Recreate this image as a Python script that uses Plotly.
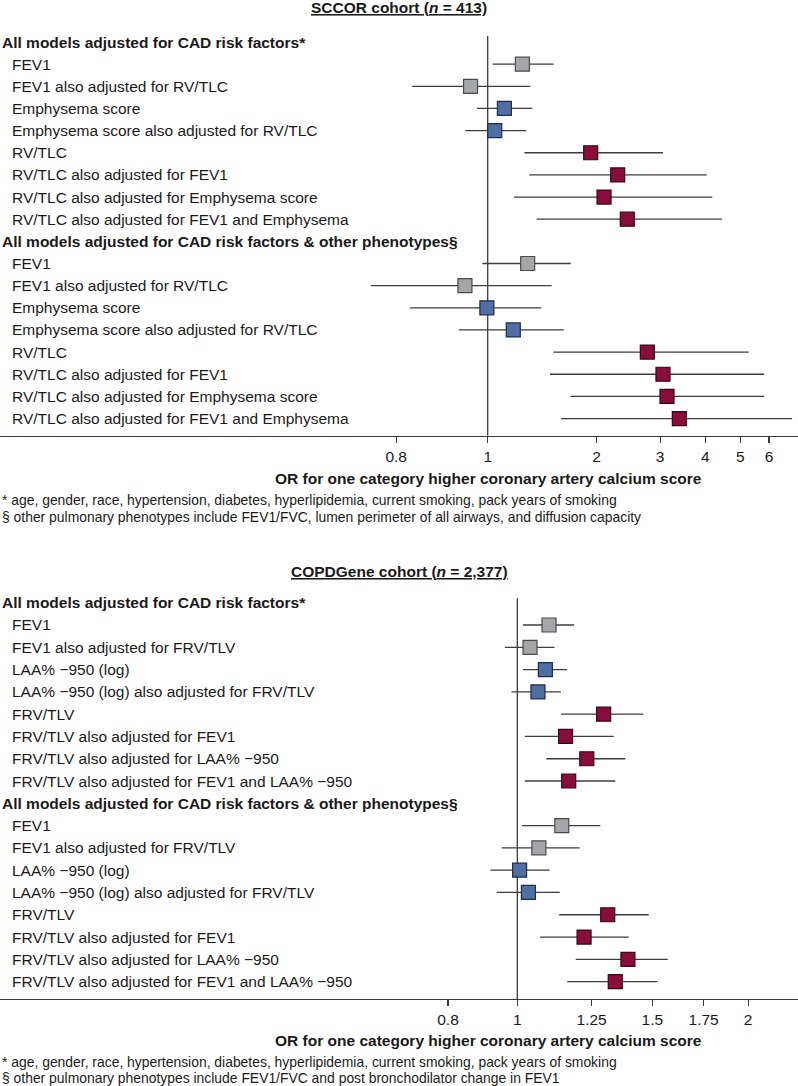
import numpy as np
import plotly.graph_objects as go

# ---------------- DATA ----------------
sccor_rows = [
    "FEV1",
    "FEV1 also adjusted for RV/TLC",
    "Emphysema score",
    "Emphysema score also adjusted for RV/TLC",
    "RV/TLC",
    "RV/TLC also adjusted for FEV1",
    "RV/TLC also adjusted for Emphysema score",
    "RV/TLC also adjusted for FEV1 and Emphysema",
]
copd_rows = [
    "FEV1",
    "FEV1 also adjusted for FRV/TLV",
    "LAA% \u2212950 (log)",
    "LAA% \u2212950 (log) also adjusted for FRV/TLV",
    "FRV/TLV",
    "FRV/TLV also adjusted for FEV1",
    "FRV/TLV also adjusted for LAA% \u2212950",
    "FRV/TLV also adjusted for FEV1 and LAA% \u2212950",
]
row_group = ["FEV1", "FEV1", "Emphysema", "Emphysema", "AirTrapping", "AirTrapping", "AirTrapping", "AirTrapping"]

header_a = "All models adjusted for CAD risk factors*"
header_b = "All models adjusted for CAD risk factors & other phenotypes\u00a7"

# SCCOR: CAD risk factors
sccor_or_a = [1.247, 0.959, 1.112, 1.046, 1.927, 2.289, 2.098, 2.433]
sccor_lo_a = [1.032, 0.832, 0.974, 0.947, 1.263, 1.303, 1.182, 1.366]
sccor_hi_a = [1.523, 1.312, 1.329, 1.279, 3.054, 4.035, 4.181, 4.448]
# SCCOR: CAD risk factors & other phenotypes
sccor_or_b = [1.290, 0.946, 0.998, 1.177, 2.764, 3.054, 3.133, 3.389]
sccor_lo_b = [0.987, 0.752, 0.827, 0.932, 1.519, 1.487, 1.693, 1.595]
sccor_hi_b = [1.697, 1.503, 1.407, 1.623, 5.270, 5.820, 5.820, 6.950]

# COPDGene: CAD risk factors
copd_or_a = [1.100, 1.039, 1.088, 1.064, 1.296, 1.156, 1.232, 1.167]
copd_lo_a = [1.017, 0.961, 1.017, 0.981, 1.140, 1.023, 1.091, 1.023]
copd_hi_a = [1.186, 1.118, 1.161, 1.140, 1.460, 1.336, 1.383, 1.342]
# COPDGene: CAD risk factors & other phenotypes
copd_or_b = [1.143, 1.067, 1.007, 1.034, 1.312, 1.222, 1.394, 1.342]
copd_lo_b = [1.014, 0.951, 0.917, 0.936, 1.134, 1.071, 1.192, 1.162]
copd_hi_b = [1.283, 1.206, 1.102, 1.136, 1.484, 1.397, 1.571, 1.523]

sccor_ticks = [0.8, 1, 2, 3, 4, 5, 6]
sccor_ticktext = ["0.8", "1", "2", "3", "4", "5", "6"]
copd_ticks = [0.8, 1, 1.25, 1.5, 1.75, 2]
copd_ticktext = ["0.8", "1", "1.25", "1.5", "1.75", "2"]

sccor_title = "<b><u>SCCOR cohort (<i>n</i> = 413)</u></b>"
copd_title = "<b><u>COPDGene cohort (<i>n</i> = 2,377)</u></b>"
axis_title = "<b>OR for one category higher coronary artery calcium score</b>"
sccor_notes = [
    "* age, gender, race, hypertension, diabetes, hyperlipidemia, current smoking, pack years of smoking",
    "\u00a7 other pulmonary phenotypes include FEV1/FVC, lumen perimeter of all airways, and diffusion capacity",
]
copd_notes = [
    "* age, gender, race, hypertension, diabetes, hyperlipidemia, current smoking, pack years of smoking",
    "\u00a7 other pulmonary phenotypes include FEV1/FVC and post bronchodilator change in FEV1",
]

# ---------------- STYLE ----------------
W, H = 798, 1086
FONT = "Liberation Sans, Arial, Helvetica, sans-serif"
FS = 15.5
TXT = "#1a1a1a"
fill = {"FEV1": "#a5a6a9", "Emphysema": "#4f6fa2", "AirTrapping": "#880d3a"}
edge = {"FEV1": "#4a4a4a", "Emphysema": "#1e2d4a", "AirTrapping": "#3a0616"}
CI_COLOR = "#3d3d3d"


# axis scale: log above OR=1, stretched log below OR=1 (as in the original figure)
def scale(v, k_below):
    v = np.asarray(v, dtype=float)
    return np.where(v >= 1, np.log(v), np.log(v) * k_below)


panels = [
    dict(rows=sccor_rows,
         a=(sccor_or_a, sccor_lo_a, sccor_hi_a), b=(sccor_or_b, sccor_lo_b, sccor_hi_b),
         ticks=sccor_ticks, ticktext=sccor_ticktext, title=sccor_title, notes=sccor_notes,
         k=410 / 157, ppu=157, x1px=487.7, row0=42.0, step=22.15, ptop=28, pbot=435.7,
         title_px=8, ttl_px=478.3, notes_px=(500, 516.7), vtop=-0.27),
    dict(rows=copd_rows,
         a=(copd_or_a, copd_lo_a, copd_hi_a), b=(copd_or_b, copd_lo_b, copd_hi_b),
         ticks=copd_ticks, ticktext=copd_ticktext, title=copd_title, notes=copd_notes,
         k=310.6 / 333, ppu=333, x1px=517.3, row0=602.7, step=22.29, ptop=590, pbot=999,
         title_px=571, ttl_px=1040.7, notes_px=(1061.7, 1078.3), vtop=-0.2),
]

fig = go.Figure()
annotations = []
shapes = []

for i, p in enumerate(panels):
    xa = "x" if i == 0 else "x2"
    ya = "y" if i == 0 else "y2"
    xname = "xaxis" if i == 0 else "xaxis2"
    yname = "yaxis" if i == 0 else "yaxis2"

    ys = list(range(1, 9)) + list(range(10, 18))
    ors = list(p["a"][0]) + list(p["b"][0])
    los = list(p["a"][1]) + list(p["b"][1])
    his = list(p["a"][2]) + list(p["b"][2])
    groups = row_group + row_group

    xs = scale(ors, p["k"])
    xl = scale(los, p["k"])
    xh = scale(his, p["k"])

    fig.add_trace(go.Scatter(
        x=xs, y=ys, mode="markers", xaxis=xa, yaxis=ya,
        marker=dict(symbol="square", size=14,
                    color=[fill[g] for g in groups],
                    line=dict(width=1.2, color=[edge[g] for g in groups])),
        error_x=dict(type="data", symmetric=False, array=xh - xs, arrayminus=xs - xl,
                     width=0, thickness=1.3, color=CI_COLOR),
        hoverinfo="skip", showlegend=False,
    ))

    # axes
    xmin = (0 - p["x1px"]) / p["ppu"]
    xmax = (W - p["x1px"]) / p["ppu"]
    ybot = (p["pbot"] - p["row0"]) / p["step"]
    ytop = (p["ptop"] - p["row0"]) / p["step"]
    fig.update_layout({
        xname: dict(domain=[0, 1], anchor=ya, range=[xmin, xmax], showgrid=False, zeroline=False,
                    showline=True, linecolor="#3a3a3a", linewidth=1.2, ticks="outside", ticklen=6,
                    tickwidth=1.2, tickcolor="#3a3a3a",
                    tickvals=scale(p["ticks"], p["k"]), ticktext=p["ticktext"],
                    tickfont=dict(family=FONT, size=FS, color=TXT)),
        yname: dict(domain=[1 - p["pbot"] / H, 1 - p["ptop"] / H], anchor=xa,
                    range=[ybot, ytop], visible=False, showgrid=False, zeroline=False),
    })

    # reference line at OR = 1
    shapes.append(dict(type="line", xref=xa, yref=ya, x0=0, x1=0, y0=p["vtop"], y1=ybot,
                       line=dict(color="#3a3a3a", width=1.3), layer="below"))

    # row labels
    yref = ya
    for hy, htxt in ((0, header_a), (9, header_b)):
        annotations.append(dict(text="<b>" + htxt + "</b>", x=0, xref="paper", y=hy, yref=yref,
                                xanchor="left", yanchor="middle", showarrow=False,
                                font=dict(family=FONT, size=FS, color=TXT)))
    for j, lab in enumerate(p["rows"]):
        for base in (1, 10):
            annotations.append(dict(text=lab, x=10 / W, xref="paper", y=base + j, yref=yref,
                                    xanchor="left", yanchor="middle", showarrow=False,
                                    font=dict(family=FONT, size=FS, color=TXT)))

    # panel title
    annotations.append(dict(text=p["title"], x=399 / W, xref="paper", y=1 - p["title_px"] / H,
                            yref="paper", xanchor="center", yanchor="middle", showarrow=False,
                            font=dict(family=FONT, size=FS, color=TXT)))
    # axis title
    annotations.append(dict(text=axis_title, x=488 / W, xref="paper", y=1 - p["ttl_px"] / H,
                            yref="paper", xanchor="center", yanchor="middle", showarrow=False,
                            font=dict(family=FONT, size=FS, color=TXT)))
    # footnotes
    for note, npx in zip(p["notes"], p["notes_px"]):
        annotations.append(dict(text=note, x=0, xref="paper", y=1 - npx / H,
                                yref="paper", xanchor="left", yanchor="middle", showarrow=False,
                                font=dict(family=FONT, size=13.9, color=TXT)))

fig.update_layout(
    width=W, height=H, margin=dict(l=0, r=0, t=0, b=0),
    paper_bgcolor="white", plot_bgcolor="white",
    showlegend=False, annotations=annotations, shapes=shapes,
    font=dict(family=FONT, size=FS, color=TXT),
)

fig.write_html("out.html", config={"displayModeBar": False, "staticPlot": True},
               post_script="document.body.style.margin='0px';document.body.style.overflow='hidden';")
